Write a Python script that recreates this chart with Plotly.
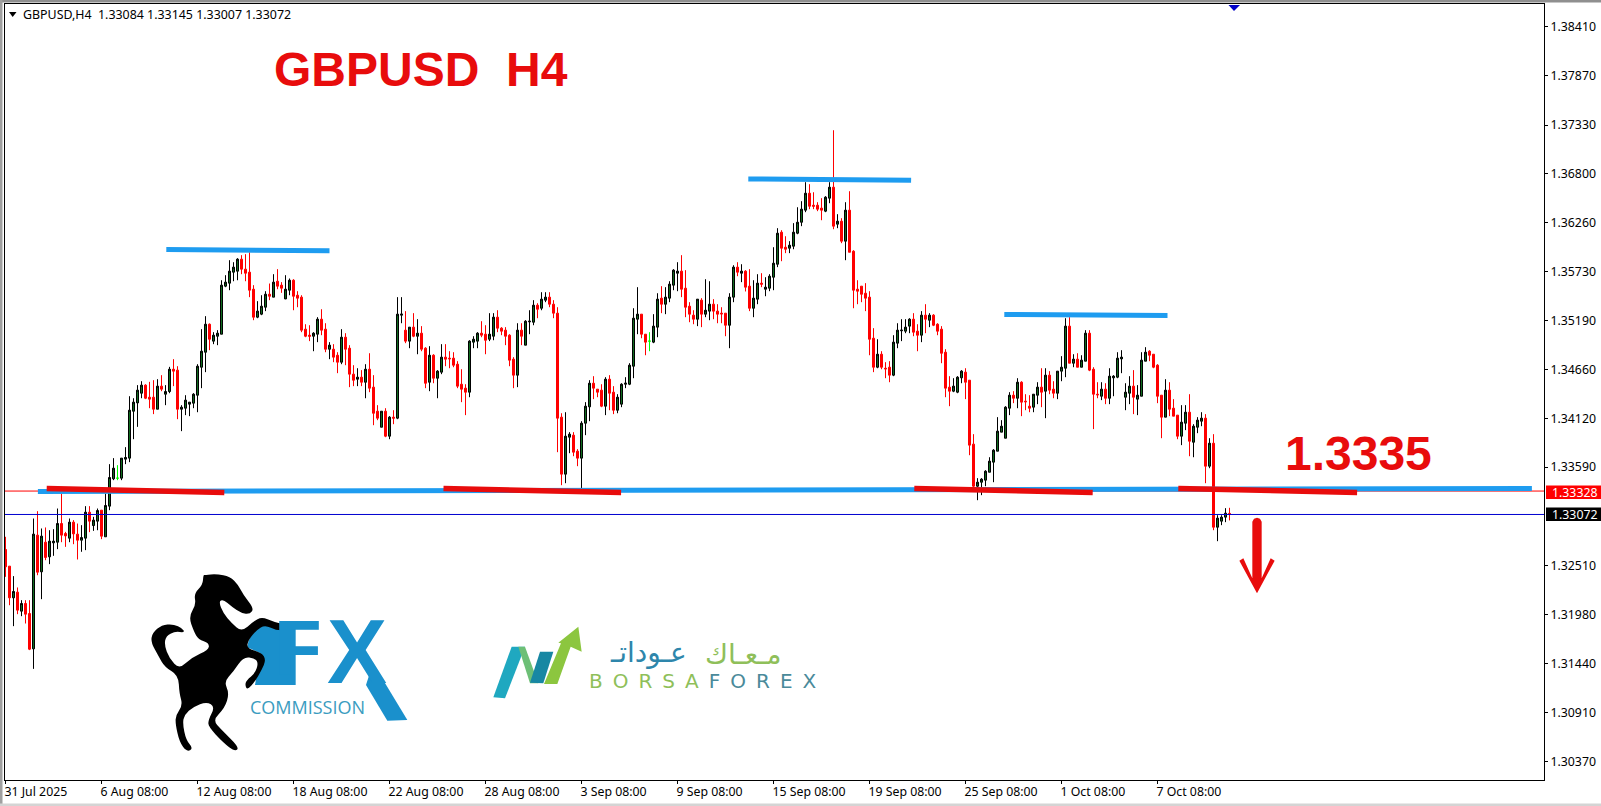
import plotly.graph_objects as go

opens = [
    1.32689,1.32507,1.32161,1.32223,1.32015,1.32099,1.31989,1.31603,1.32846,1.32445,
    1.32769,1.32609,1.32762,1.32769,1.32973,1.32864,1.32813,1.32988,1.32857,1.32791,
    1.32813,1.33097,1.32951,1.32999,1.33119,1.32828,1.33163,1.33462,1.33469,1.33469,
    1.33677,1.33688,1.34201,1.34292,1.34398,1.34486,1.34354,1.34354,1.34223,1.34475,
    1.34387,1.34416,1.34660,1.34650,1.34223,1.34234,1.34278,1.34289,1.34376,1.34682,
    1.34846,1.35152,1.34967,1.35021,1.35043,1.35568,1.35601,1.35721,1.35732,1.35863,
    1.35754,1.35721,1.35535,1.35229,1.35262,1.35338,1.35480,1.35448,1.35622,1.35579,
    1.35429,1.35524,1.35633,1.35469,1.35448,1.35098,1.35032,1.35021,1.35043,1.35207,
    1.35098,1.34879,1.34879,1.34813,1.34737,1.35010,1.34890,1.34606,1.34551,1.34573,
    1.34518,1.34660,1.34464,1.34201,1.34026,1.34201,1.33928,1.34136,1.34125,1.35251,
    1.35087,1.34967,1.35120,1.35021,1.35054,1.34890,1.34518,1.34813,1.34562,1.34628,
    1.34792,1.34781,1.34781,1.34715,1.34496,1.34453,1.34409,1.34956,1.34967,1.35054,
    1.35043,1.34988,1.35021,1.35229,1.35109,1.35087,1.35032,1.34770,1.34595,1.35087,
    1.34923,1.35178,1.35174,1.35360,1.35327,1.35415,1.35448,1.35371,1.35273,1.34136,
    1.33513,1.33917,1.33939,1.33764,1.33688,1.34070,1.34249,1.34507,1.34442,1.34431,
    1.34256,1.34551,1.34409,1.34212,1.34278,1.34496,1.34496,1.34693,1.35207,1.35262,
    1.35043,1.34967,1.34956,1.35120,1.35437,1.35371,1.35437,1.35579,1.35710,1.35732,
    1.35546,1.35349,1.35251,1.35207,1.35415,1.35262,1.35295,1.35371,1.35295,1.35273,
    1.35273,1.35141,1.35448,1.35776,1.35710,1.35732,1.35568,1.35327,1.35426,1.35601,
    1.35535,1.35546,1.35666,1.35808,1.36158,1.35994,1.35983,1.36005,1.36147,1.36267,
    1.36399,1.36584,1.36453,1.36453,1.36421,1.36388,1.36530,1.36650,1.36246,1.36278,
    1.36060,1.36399,1.35950,1.35535,1.35568,1.35491,1.35448,1.34999,1.34682,1.34824,
    1.34671,1.34682,1.34595,1.34945,1.35080,1.35076,1.35131,1.35207,1.35076,1.35032,
    1.35251,1.35196,1.35251,1.35152,1.35098,1.34846,1.34464,1.34420,1.34409,1.34566,
    1.34628,1.34540,1.33841,1.33381,1.33425,1.33447,1.33534,1.33644,1.33764,1.33972,
    1.33906,1.34234,1.34376,1.34343,1.34518,1.34311,1.34256,1.34245,1.34376,1.34464,
    1.34420,1.34595,1.34442,1.34398,1.34639,1.34671,1.35131,1.34726,1.34770,1.34682,
    1.34748,1.35054,1.34660,1.34387,1.34365,1.34442,1.34343,1.34566,1.34573,1.34773,
    1.34354,1.34398,1.34475,1.34333,1.34365,1.34748,1.34857,1.34824,1.34704,1.34376,
    1.34136,1.34431,1.34234,1.34158,1.33928,1.34070,1.34190,1.33862,1.34026,1.34092,
    1.34125,1.33600,1.33851,1.32933,1.32999,1.33043,1.33084,
]
highs = [
    1.32828,1.32507,1.32398,1.32274,1.32135,1.32135,1.32135,1.33028,1.33108,1.32919,
    1.32930,1.32900,1.32911,1.33137,1.33301,1.32882,1.33028,1.33010,1.32973,1.32955,
    1.33163,1.33163,1.33046,1.33137,1.33119,1.33301,1.33622,1.33688,1.33611,1.33688,
    1.33808,1.34365,1.34343,1.34486,1.34529,1.34496,1.34522,1.34540,1.34551,1.34595,
    1.34486,1.34686,1.34770,1.34693,1.34267,1.34376,1.34300,1.34398,1.34715,1.35098,
    1.35240,1.35160,1.35065,1.35087,1.35633,1.35688,1.35852,1.35830,1.35874,1.35907,
    1.35918,1.35939,1.35579,1.35404,1.35469,1.35513,1.35597,1.35699,1.35754,1.35612,
    1.35688,1.35652,1.35644,1.35513,1.35469,1.35152,1.35141,1.35065,1.35229,1.35316,
    1.35163,1.34956,1.34934,1.34846,1.35098,1.35054,1.34923,1.34704,1.34671,1.34650,
    1.34715,1.34835,1.34595,1.34267,1.34201,1.34234,1.34147,1.34212,1.35448,1.35448,
    1.35295,1.35120,1.35273,1.35207,1.35131,1.34901,1.34912,1.34824,1.34650,1.34934,
    1.34934,1.34857,1.34846,1.34748,1.34660,1.34496,1.34977,1.35021,1.35065,1.35185,
    1.35141,1.35273,1.35273,1.35305,1.35120,1.35120,1.35043,1.34792,1.35163,1.35163,
    1.35196,1.35305,1.35415,1.35382,1.35502,1.35502,1.35502,1.35415,1.35338,1.34179,
    1.34190,1.33972,1.33972,1.33786,1.34092,1.34300,1.34540,1.34584,1.34442,1.34496,
    1.34573,1.34595,1.34475,1.34387,1.34507,1.34573,1.34726,1.35327,1.35557,1.35262,
    1.35043,1.35065,1.35262,1.35491,1.35568,1.35557,1.35622,1.35754,1.35830,1.35907,
    1.35743,1.35393,1.35305,1.35426,1.35437,1.35644,1.35622,1.35426,1.35371,1.35338,
    1.35273,1.35491,1.35797,1.35830,1.35808,1.35743,1.35754,1.35633,1.35699,1.35710,
    1.35666,1.35699,1.35994,1.36202,1.36180,1.36114,1.36060,1.36257,1.36431,1.36497,
    1.36705,1.36683,1.36595,1.36486,1.36530,1.36552,1.36705,1.37273,1.36355,1.36311,
    1.36486,1.36606,1.35961,1.35633,1.35568,1.35601,1.35513,1.35109,1.34988,1.34857,
    1.34737,1.34748,1.35032,1.35163,1.35207,1.35207,1.35218,1.35273,1.35152,1.35295,
    1.35371,1.35273,1.35262,1.35163,1.35131,1.34879,1.34584,1.34562,1.34584,1.34650,
    1.34671,1.34540,1.33950,1.33469,1.33469,1.33556,1.33698,1.33786,1.34136,1.34103,
    1.34256,1.34409,1.34420,1.34562,1.34529,1.34387,1.34376,1.34387,1.34518,1.34671,
    1.34671,1.34639,1.34529,1.34639,1.34803,1.35218,1.35229,1.34824,1.34835,1.34813,
    1.35087,1.35087,1.34682,1.34518,1.34518,1.34507,1.34671,1.34595,1.34846,1.34868,
    1.34507,1.34584,1.34650,1.34486,1.34846,1.34901,1.34868,1.34824,1.34715,1.34376,
    1.34551,1.34518,1.34333,1.34158,1.34267,1.34267,1.34387,1.34059,1.34136,1.34190,
    1.34169,1.33906,1.33950,1.33064,1.33064,1.33141,1.33145,
]
lows = [
    1.32390,1.32080,1.31851,1.31982,1.31960,1.31880,1.31589,1.31384,1.32408,1.32146,
    1.32572,1.32529,1.32620,1.32693,1.32769,1.32718,1.32769,1.32747,1.32580,1.32664,
    1.32682,1.32879,1.32893,1.32900,1.32802,1.32828,1.33119,1.33447,1.33447,1.33447,
    1.33622,1.33644,1.33895,1.34030,1.34343,1.34333,1.34234,1.34169,1.34223,1.34420,
    1.34267,1.34398,1.34475,1.34114,1.33983,1.34158,1.34147,1.34234,1.34190,1.34453,
    1.34628,1.34868,1.34934,1.34923,1.35043,1.35557,1.35524,1.35622,1.35633,1.35699,
    1.35622,1.35448,1.35196,1.35218,1.35251,1.35295,1.35415,1.35448,1.35535,1.35495,
    1.35426,1.35469,1.35305,1.35338,1.35065,1.35010,1.34967,1.34857,1.34956,1.35032,
    1.34846,1.34770,1.34737,1.34617,1.34715,1.34704,1.34464,1.34475,1.34475,1.34475,
    1.34343,1.34409,1.34048,1.34103,1.34026,1.33917,1.33895,1.34059,1.34114,1.35163,
    1.34945,1.34890,1.35010,1.34824,1.34857,1.34453,1.34420,1.34507,1.34343,1.34606,
    1.34693,1.34671,1.34682,1.34453,1.34300,1.34158,1.34354,1.34890,1.34890,1.35010,
    1.34824,1.34967,1.34977,1.35065,1.35032,1.34923,1.34693,1.34453,1.34464,1.34923,
    1.34923,1.35043,1.35141,1.35218,1.35305,1.35393,1.35338,1.35218,1.33753,1.33392,
    1.33414,1.33742,1.33709,1.33600,1.33356,1.33939,1.34092,1.34333,1.34354,1.34245,
    1.34158,1.34212,1.34169,1.34179,1.34245,1.34453,1.34486,1.34562,1.35043,1.34999,
    1.34813,1.34857,1.34945,1.35010,1.35273,1.35262,1.35393,1.35524,1.35513,1.35448,
    1.35229,1.35174,1.35152,1.35131,1.35120,1.35229,1.35196,1.35207,1.35163,1.35163,
    1.35021,1.34890,1.35393,1.35677,1.35612,1.35510,1.35295,1.35229,1.35371,1.35557,
    1.35458,1.35513,1.35524,1.35776,1.35841,1.35929,1.35929,1.35972,1.36136,1.36224,
    1.36377,1.36410,1.36410,1.36388,1.36289,1.36377,1.36475,1.36191,1.36202,1.36038,
    1.35852,1.35939,1.35327,1.35371,1.35393,1.35295,1.34813,1.34628,1.34671,1.34660,
    1.34562,1.34518,1.34584,1.34890,1.34967,1.35054,1.35054,1.35021,1.34857,1.34956,
    1.35054,1.35120,1.35131,1.35032,1.34726,1.34354,1.34256,1.34409,1.34398,1.34507,
    1.34333,1.33720,1.33370,1.33228,1.33283,1.33381,1.33534,1.33425,1.33764,1.33972,
    1.33906,1.34158,1.34289,1.34234,1.34147,1.34212,1.34190,1.34190,1.34278,1.34245,
    1.34125,1.34387,1.34343,1.34333,1.34529,1.34573,1.34726,1.34682,1.34682,1.34682,
    1.34748,1.34639,1.34005,1.34343,1.34322,1.34278,1.34278,1.34365,1.34562,1.34617,
    1.34212,1.34278,1.34169,1.34158,1.34365,1.34748,1.34748,1.34671,1.34289,1.33906,
    1.34136,1.34147,1.34147,1.33895,1.33830,1.33994,1.33709,1.33698,1.33961,1.34037,
    1.33414,1.33578,1.32900,1.32780,1.32955,1.32988,1.33007,
]
closes = [
    1.32500,1.32161,1.32230,1.32026,1.32099,1.31982,1.31599,1.32857,1.32441,1.32835,
    1.32602,1.32780,1.32780,1.32973,1.32846,1.32838,1.32988,1.32860,1.32791,1.32820,
    1.33097,1.32999,1.33010,1.33115,1.32835,1.33170,1.33476,1.33578,1.33469,1.33688,
    1.33695,1.34212,1.34300,1.34431,1.34486,1.34343,1.34333,1.34223,1.34475,1.34442,
    1.34416,1.34660,1.34639,1.34223,1.34245,1.34322,1.34300,1.34387,1.34693,1.34857,
    1.35152,1.34988,1.35032,1.35054,1.35579,1.35612,1.35732,1.35776,1.35863,1.35754,
    1.35710,1.35524,1.35229,1.35295,1.35349,1.35480,1.35458,1.35612,1.35568,1.35546,
    1.35535,1.35633,1.35458,1.35437,1.35087,1.35021,1.35021,1.35054,1.35207,1.35087,
    1.34879,1.34923,1.34792,1.34737,1.35010,1.34879,1.34606,1.34540,1.34573,1.34518,
    1.34660,1.34453,1.34179,1.34125,1.34201,1.33928,1.34136,1.34125,1.35262,1.35262,
    1.34967,1.35120,1.35021,1.35054,1.34879,1.34507,1.34813,1.34562,1.34639,1.34792,
    1.34770,1.34774,1.34704,1.34475,1.34442,1.34409,1.34967,1.34988,1.35054,1.35032,
    1.34977,1.35043,1.35229,1.35109,1.35076,1.35021,1.34759,1.34595,1.35087,1.35021,
    1.35185,1.35185,1.35360,1.35316,1.35426,1.35448,1.35371,1.35273,1.34125,1.33513,
    1.33928,1.33950,1.33753,1.33688,1.34070,1.34256,1.34507,1.34453,1.34409,1.34256,
    1.34551,1.34398,1.34212,1.34354,1.34496,1.34507,1.34704,1.35218,1.35262,1.35043,
    1.34956,1.34967,1.35131,1.35426,1.35371,1.35448,1.35590,1.35743,1.35732,1.35535,
    1.35338,1.35262,1.35207,1.35426,1.35262,1.35305,1.35371,1.35295,1.35262,1.35265,
    1.35141,1.35448,1.35776,1.35721,1.35732,1.35557,1.35327,1.35437,1.35601,1.35590,
    1.35557,1.35677,1.35819,1.36147,1.35983,1.35972,1.36016,1.36158,1.36267,1.36410,
    1.36584,1.36442,1.36442,1.36410,1.36399,1.36541,1.36650,1.36224,1.36278,1.36060,
    1.36399,1.35939,1.35524,1.35513,1.35480,1.35437,1.34988,1.34682,1.34824,1.34682,
    1.34664,1.34595,1.34956,1.35087,1.35087,1.35120,1.35207,1.35065,1.35032,1.35251,
    1.35207,1.35251,1.35141,1.35076,1.34835,1.34453,1.34420,1.34475,1.34573,1.34639,
    1.34518,1.33830,1.33381,1.33425,1.33458,1.33545,1.33655,1.33775,1.33983,1.34037,
    1.34245,1.34376,1.34343,1.34518,1.34300,1.34304,1.34234,1.34387,1.34464,1.34409,
    1.34595,1.34431,1.34398,1.34639,1.34682,1.35131,1.34726,1.34770,1.34682,1.34759,
    1.35054,1.34650,1.34387,1.34380,1.34442,1.34343,1.34584,1.34584,1.34781,1.34792,
    1.34409,1.34475,1.34354,1.34376,1.34759,1.34846,1.34813,1.34682,1.34365,1.34136,
    1.34431,1.34223,1.34147,1.33928,1.34081,1.34190,1.33873,1.34037,1.34103,1.34125,
    1.33600,1.33851,1.32933,1.33032,1.33043,1.33086,1.33072,
]
assert len(opens) == len(highs) == len(lows) == len(closes)

time_ticks = [0, 24, 48, 72, 96, 120, 144, 168, 192, 216, 240, 264, 288]
time_labels = ["31 Jul 2025", "6 Aug 08:00", "12 Aug 08:00", "18 Aug 08:00", "22 Aug 08:00",
               "28 Aug 08:00", "3 Sep 08:00", "9 Sep 08:00", "15 Sep 08:00", "19 Sep 08:00",
               "25 Sep 08:00", "1 Oct 08:00", "7 Oct 08:00"]
price_ticks = [1.38410, 1.37870, 1.37330, 1.36800, 1.36260, 1.35730, 1.35190, 1.34660,
               1.34120, 1.33590, 1.32510, 1.31980, 1.31440, 1.30910, 1.30370]
alert_price = 1.33328
last_price = 1.33072

# hand drawn lines on the chart: bar index and price at each end
blue_lines = [
    (40.2, 1.35969, 81.0, 1.35954),
    (185.7, 1.36741, 226.4, 1.36726),
    (249.7, 1.35258, 290.5, 1.35247),
    (8.1, 1.33323, 381.6, 1.33356),
]
red_lines = [
    (10.3, 1.33356, 54.7, 1.33312),
    (109.5, 1.33356, 153.9, 1.33312),
    (227.2, 1.33356, 271.8, 1.33312),
    (293.2, 1.33356, 337.9, 1.33312),
]

# page layout in pixels
L, T, R, B = 5, 4, 1544, 780
W_PAGE, H_PAGE = 1601, 806
RED = "#e80c0c"
BLUE = "#1e9cf0"
LOGO_BLUE = "#1a90cc"


def px(x):
    return (x - L) / (R - L)


def py(y):
    return 1 - (y - T) / (B - T)


def poly(points, ox=0, oy=0, k=1.0):
    # points from a crop at scale 1/k, placed at page offset ox, oy
    parts = [f"{px(ox + x * k):.5f},{py(oy + y * k):.5f}" for x, y in points]
    return "M" + "L".join(parts) + "Z"


def smooth(points, ox=0, oy=0, k=1.0):
    # same as poly but rounded through the edge midpoints
    pts = [(px(ox + x * k), py(oy + y * k)) for x, y in points]
    n = len(pts)
    mids = [((pts[i][0] + pts[(i + 1) % n][0]) / 2, (pts[i][1] + pts[(i + 1) % n][1]) / 2) for i in range(n)]
    d = f"M{mids[-1][0]:.5f},{mids[-1][1]:.5f}"
    for i in range(n):
        d += f"Q{pts[i][0]:.5f},{pts[i][1]:.5f} {mids[i][0]:.5f},{mids[i][1]:.5f}"
    return d + "Z"


def fill_shape(path, color):
    return dict(type="path", xref="paper", yref="paper", path=path,
                fillcolor=color, line=dict(width=0), layer="above")


def rect(x0, y0, x1, y1, color):
    return dict(type="rect", xref="paper", yref="paper", x0=px(x0), x1=px(x1),
                y0=py(y0), y1=py(y1), fillcolor=color, line=dict(width=0), layer="above")


def note(text, x, y, size, color, font="Noto Sans", anchor="left", weight="normal", height=None):
    return dict(text=text, x=px(x), y=py(y), xref="paper", yref="paper", showarrow=False,
                xanchor=anchor, yanchor="middle", borderpad=0, height=height,
                font=dict(family=font, size=size, color=color, weight=weight))


idx = list(range(len(opens)))
normal = [i for i in idx if opens[i] != closes[i]]
doji = [i for i in idx if opens[i] == closes[i]]

fig = go.Figure()
fig.add_trace(go.Candlestick(
    x=normal, open=[opens[i] for i in normal], high=[highs[i] for i in normal],
    low=[lows[i] for i in normal], close=[closes[i] for i in normal],
    increasing=dict(line=dict(color="#000000", width=1), fillcolor="#0f6b1e"),
    decreasing=dict(line=dict(color="#ff0000", width=1), fillcolor="#ff0000"),
    whiskerwidth=0, showlegend=False, hoverinfo="skip"))
fig.add_trace(go.Candlestick(
    x=doji, open=[opens[i] for i in doji], high=[highs[i] for i in doji],
    low=[lows[i] for i in doji], close=[closes[i] for i in doji],
    increasing=dict(line=dict(color="#00ff00", width=1), fillcolor="#00ff00"),
    decreasing=dict(line=dict(color="#00ff00", width=1), fillcolor="#00ff00"),
    whiskerwidth=0, showlegend=False, hoverinfo="skip"))

shapes = []
shapes.append(dict(type="line", xref="paper", yref="y", x0=0, x1=1, y0=alert_price, y1=alert_price,
                   line=dict(color="#ff0000", width=1)))
shapes.append(dict(type="line", xref="paper", yref="y", x0=0, x1=1, y0=last_price, y1=last_price,
                   line=dict(color="#0000d0", width=1)))
for x0, y0, x1, y1 in blue_lines:
    shapes.append(dict(type="line", x0=x0, y0=y0, x1=x1, y1=y1, line=dict(color=BLUE, width=5)))
for x0, y0, x1, y1 in red_lines:
    shapes.append(dict(type="line", x0=x0, y0=y0, x1=x1, y1=y1, line=dict(color=RED, width=5.5)))

# window edges
shapes.append(rect(0, 0, W_PAGE, 2.5, "#8f8f8f"))
shapes.append(rect(0, 0, 2.5, H_PAGE, "#a0a0a0"))
shapes.append(rect(0, 803.5, W_PAGE, H_PAGE, "#d4d4d4"))

# price boxes on the scale
shapes.append(rect(1546, 485.5, W_PAGE, 499, "#ff0000"))
shapes.append(rect(1546, 507.5, W_PAGE, 521, "#000000"))

# small markers
shapes.append(fill_shape(poly([(9, 12), (16.5, 12), (12.7, 17)]), "#000000"))
shapes.append(fill_shape(poly([(1228.5, 5), (1240, 5), (1234, 11)]), "#0000c8"))

# down arrow
arrow = [(277, 155), (282, 146), (291, 143), (300, 146), (305, 155), (305, 325), (332, 265),
         (344, 272), (291, 370), (238, 272), (250, 265), (277, 325)]
shapes.append(fill_shape(poly(arrow, 1160, 470, 1 / 3), RED))

shapes.append(fill_shape(poly([(355, 245), (375, 196), (480, 196), (497, 185), (497, 375), (375, 375),
                               (392, 280), (352, 262)], 130, 560, 1 / 3), LOGO_BLUE))
shapes.append(fill_shape(poly([(729, 310), (832, 480), (772, 482), (708, 375)], 130, 560, 1 / 3), LOGO_BLUE))
horse = [(225, 45), (260, 42), (300, 50), (325, 75), (340, 105), (372, 145), (360, 162), (335, 160),
         (305, 140), (280, 118), (266, 125), (280, 160), (305, 190), (335, 215), (370, 185), (395, 170),
         (430, 185), (478, 197), (472, 210), (440, 212), (405, 195), (380, 210), (355, 240), (350, 265),
         (395, 278), (408, 300), (395, 330), (375, 365), (352, 390), (345, 375), (350, 360), (375, 340),
         (385, 310), (375, 295), (340, 290), (310, 335), (282, 365), (298, 400), (284, 445), (248, 480),
         (275, 510), (328, 562), (315, 575), (280, 548), (235, 500), (235, 480), (255, 440), (230, 425),
         (190, 440), (163, 465), (158, 490), (168, 540), (190, 565), (170, 576), (148, 545), (136, 490),
         (138, 465), (158, 435), (148, 400), (145, 345), (105, 322), (85, 288), (62, 245), (68, 218),
         (95, 195), (130, 192), (158, 205), (164, 218), (135, 214), (108, 228), (103, 255), (118, 295),
         (148, 328), (185, 292), (235, 270), (238, 250), (205, 238), (192, 215), (176, 170), (198, 135),
         (192, 100), (218, 75), (220, 45)]
horse_shape = fill_shape(smooth(horse, 130, 560, 1 / 3), "#000000")

shapes.append(fill_shape(poly([(40, 262), (95, 110), (135, 110), (75, 265)], 480, 610, 1 / 3), "#1fa8c0"))
shapes.append(fill_shape(poly([(115, 110), (135, 110), (175, 220), (150, 220)], 480, 610, 1 / 3), "#6dbf76"))
shapes.append(fill_shape(poly([(150, 218), (180, 125), (220, 125), (190, 220)], 480, 610, 1 / 3), "#1787a3"))
shapes.append(fill_shape(poly([(192, 222), (243, 100), (235, 98), (295, 50), (305, 125), (272, 110),
                               (232, 222)], 480, 610, 1 / 3), "#8cc63f"))

annotations = [
    note("GBPUSD,H4\u00a0\u00a01.33084 1.33145 1.33007 1.33072", 21.5, 14.5, 12.4, "#000000"),
    note("GBPUSD\u00a0\u00a0H4", 273, 69, 48, RED, "Liberation Sans", weight="bold"),
    note("1.3335", 1284, 453, 48, RED, "Liberation Sans", weight="bold"),
    note(f"{alert_price:.5f}", 1551, 492, 12.3, "#ffffff"),
    note(f"{last_price:.5f}", 1551, 514.3, 12.3, "#ffffff"),
    note("F", 273, 648, 78, LOGO_BLUE, "Liberation Sans", weight="bold", height=68),
    note("X", 326, 652, 90, LOGO_BLUE, "Liberation Sans", weight="bold", height=78),
    note("COMMISSION", 307.5, 706.5, 18, "#3a9cc0", "Open Sans", "center"),
    note("\u0645\u0640\u0639\u0640\u0627\u0643", 743, 654, 28, "#8fbf5a", "DejaVu Sans", "center"),
    note("\u0639\u0640\u0648\u062f\u0627\u062a\u0640", 648, 652, 28, "#2e86ab", "DejaVu Sans", "center"),
    note("<span style='color:#8fbf5a'>B\u2002O\u2002R\u2002S\u2002A</span>\u2002"
         "<span style='color:#4a8a9a'>F\u2002O\u2002R\u2002E\u2002X</span>",
         703, 681, 20, "#8fbf5a", "DejaVu Sans", "center"),
]

shapes.append(horse_shape)

fig.update_layout(
    width=W_PAGE, height=H_PAGE, autosize=False,
    margin=dict(l=L, r=W_PAGE - R, t=T, b=H_PAGE - B, pad=0),
    paper_bgcolor="#ffffff", plot_bgcolor="#ffffff",
    font=dict(family="Noto Sans", size=12.3, color="#000000"),
    showlegend=False, shapes=shapes, annotations=annotations, boxgap=0.2, boxgroupgap=0.375,
    xaxis=dict(range=[-0.125, 384.625], rangeslider=dict(visible=False), showgrid=False, zeroline=False,
               tickmode="array", tickvals=time_ticks, ticktext=time_labels, ticks="outside",
               ticklen=3, tickcolor="#000000", ticklabelposition="outside right", ticklabelshift=-2,
               showline=True, mirror=True, linecolor="#000000", linewidth=1),
    yaxis=dict(range=[1.30169, 1.38653], side="right", showgrid=False, zeroline=False,
               tickmode="array", tickvals=price_ticks, ticktext=[f"{p:.5f}" for p in price_ticks],
               ticks="outside", ticklen=3, tickcolor="#000000",
               showline=True, mirror=True, linecolor="#000000", linewidth=1),
)

fig.write_html("out.html", config=dict(displayModeBar=False),
               post_script="document.body.style.margin='0';document.body.style.overflow='hidden';")
